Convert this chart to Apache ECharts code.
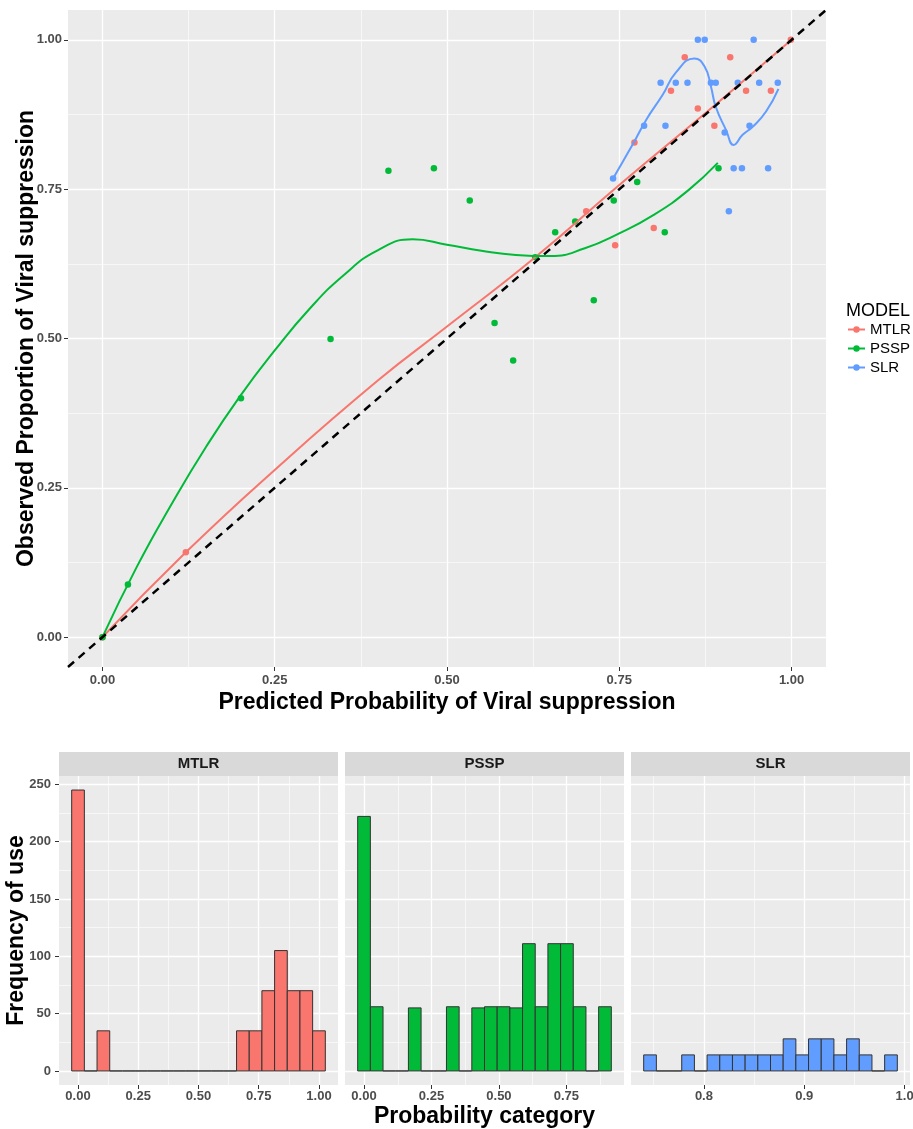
<!DOCTYPE html>
<html>
<head>
<meta charset="utf-8">
<script src="https://cdn.jsdelivr.net/npm/echarts@6/dist/echarts.min.js"></script>
<style>
html, body { margin: 0; padding: 0; background: #fff; }
#main { width: 913px; height: 1129px; }
</style>
</head>
<body>
<div id="main"></div>
<script>
const models = ['MTLR', 'PSSP', 'SLR'];
const colors = ['#F8766D', '#00BA38', '#619CFF'];

// calibration points: [predicted, observed]
const mtlrPoints = [[0, 0], [0.121, 0.142], [0.702, 0.713], [0.744, 0.656], [0.772, 0.828], [0.800, 0.685],
  [0.825, 0.915], [0.845, 0.971], [0.864, 0.885], [0.888, 0.856], [0.911, 0.971], [0.934, 0.915],
  [0.970, 0.915], [0.999, 1.0]];
const psspPoints = [[0, 0], [0.037, 0.088], [0.201, 0.400], [0.331, 0.499], [0.415, 0.781], [0.481, 0.785],
  [0.533, 0.731], [0.569, 0.526], [0.596, 0.463], [0.628, 0.636], [0.657, 0.678], [0.686, 0.696],
  [0.713, 0.564], [0.742, 0.731], [0.776, 0.762], [0.816, 0.678], [0.894, 0.785]];
const slrPoints = [[0.741, 0.768], [0.786, 0.856], [0.810, 0.928], [0.817, 0.856], [0.832, 0.928],
  [0.849, 0.928], [0.864, 1.0], [0.874, 1.0], [0.883, 0.928], [0.890, 0.928], [0.903, 0.845],
  [0.909, 0.713], [0.916, 0.785], [0.922, 0.928], [0.928, 0.785], [0.939, 0.856], [0.945, 1.0],
  [0.953, 0.928], [0.966, 0.785], [0.980, 0.928]];

// smoothed curves
const mtlrSmooth = [[0, 0], [0.121, 0.142], [0.25, 0.28], [0.4, 0.43], [0.5, 0.52], [0.628, 0.636],
  [0.75, 0.757], [0.886, 0.888], [1.0, 1.0]];
const psspSmooth = [[0, 0], [0.05, 0.118], [0.1, 0.222], [0.15, 0.318], [0.2, 0.404], [0.25, 0.48],
  [0.3, 0.549], [0.35, 0.606], [0.4, 0.648], [0.45, 0.666], [0.5, 0.657], [0.55, 0.647], [0.6, 0.64],
  [0.65, 0.638], [0.7, 0.651], [0.75, 0.676], [0.8, 0.707], [0.85, 0.748], [0.893, 0.794]];
const slrSmooth = [[0.741, 0.768], [0.770, 0.826], [0.789, 0.866], [0.813, 0.908], [0.832, 0.945],
  [0.859, 0.969], [0.874, 0.955], [0.883, 0.922], [0.890, 0.888], [0.905, 0.849], [0.916, 0.824],
  [0.929, 0.841], [0.944, 0.855], [0.963, 0.880], [0.981, 0.918]];

const diagonal = [[-0.05, -0.05], [1.05, 1.05]];
const calibTicks = [0, 0.25, 0.5, 0.75, 1];
const calibMinor = [0.125, 0.375, 0.625, 0.875];

// histogram counts, 20 bins per model
const mtlrCounts = [245, 0, 35, 0, 0, 0, 0, 0, 0, 0, 0, 0, 0, 35, 35, 70, 105, 70, 70, 35];
const psspCounts = [222, 56, 0, 0, 55, 0, 0, 56, 0, 55, 56, 56, 55, 111, 56, 111, 111, 56, 0, 56];
const slrCounts = [14, 0, 0, 14, 0, 14, 14, 14, 14, 14, 14, 28, 14, 28, 28, 14, 28, 14, 0, 14];
const binCenterFirst = [0, 0, 0.7463];
const binCenterLast = [1, 0.893, 0.9864];

const histTicks = [[0, 0.25, 0.5, 0.75, 1], [0, 0.25, 0.5, 0.75], [0.8, 0.9, 1.0]];
const histMinor = [[0.125, 0.375, 0.625, 0.875], [0.125, 0.375, 0.625, 0.875], [0.75, 0.85, 0.95]];
const countTicks = [0, 50, 100, 150, 200, 250];
const countMinor = [25, 75, 125, 175, 225];

// layout
const panelLeft = [59, 345, 631];
const panelW = 279;
const histTop = 776;
const histH = 309;
const stripH = 24;

const font = 'Liberation Sans, Arial, sans-serif';
const tickFont = { color: '#4D4D4D', fontSize: 13, fontWeight: 'bold', fontFamily: font };
const titleFont = { fontSize: 23, fontWeight: 'bold', color: '#000', fontFamily: font };
const gridMajor = { show: true, lineStyle: { color: '#FFFFFF', width: 1.3 } };
const gridMinor = { show: true, lineStyle: { color: '#FFFFFF', width: 0.6 } };

function majorAxis(gridIndex, min, max, ticks, fmt, showLabels, margin, extra) {
  return Object.assign({
    type: 'value', gridIndex, min, max,
    nameMoveOverlap: false,
    axisLine: { show: false, onZero: false },
    axisTick: { show: showLabels, length: 4, lineStyle: { color: '#333333' }, customValues: ticks },
    axisLabel: Object.assign({ show: showLabels, customValues: ticks, formatter: fmt, margin }, tickFont),
    splitLine: gridMajor
  }, extra || {});
}
function minorAxis(gridIndex, min, max, ticks) {
  return {
    type: 'value', gridIndex, min, max,
    axisLine: { show: false, onZero: false },
    axisTick: { show: false, customValues: ticks },
    axisLabel: { show: false, customValues: ticks },
    splitLine: gridMinor
  };
}

const fmt2 = v => v.toFixed(2);
const fmt1 = v => v.toFixed(1);
const fmt0 = v => String(v);

const xAxes = [
  majorAxis(0, -0.05, 1.05, calibTicks, fmt2, true, 7, {
    name: 'Predicted Probability of Viral suppression', nameLocation: 'middle', nameGap: 24,
    nameTextStyle: titleFont
  }),
  minorAxis(0, -0.05, 1.05, calibMinor)
];
const yAxes = [
  majorAxis(0, -0.05, 1.05, calibTicks, fmt2, true, 6, {
    name: 'Observed Proportion of Viral suppression', nameLocation: 'middle', nameGap: 30,
    nameTextStyle: titleFont
  }),
  minorAxis(0, -0.05, 1.05, calibMinor)
];

const gridBase = { backgroundColor: '#EBEBEB', show: true, borderWidth: 0, containLabel: false, outerBoundsMode: 'none' };
const grids = [Object.assign({ left: 68, top: 10, width: 758, height: 657 }, gridBase)];
const countMax = Math.max(...mtlrCounts, ...psspCounts, ...slrCounts);
const yMin = -countMax * 0.05, yMax = countMax * 1.05;

const allCounts = [mtlrCounts, psspCounts, slrCounts];
const histSeries = [];
allCounts.forEach((counts, k) => {
  grids.push(Object.assign({ left: panelLeft[k], top: histTop, width: panelW, height: histH }, gridBase));
  const first = binCenterFirst[k], last = binCenterLast[k];
  const w = (last - first) / (counts.length - 1);
  const lo = first - w / 2, hi = last + w / 2, pad = (hi - lo) * 0.05;
  const g = k + 1;
  const xExtra = k === 1 ? {
    name: 'Probability category', nameLocation: 'middle', nameGap: 20, nameTextStyle: titleFont
  } : {};
  xAxes.push(majorAxis(g, lo - pad, hi + pad, histTicks[k], k === 2 ? fmt1 : fmt2, true, 5, xExtra));
  xAxes.push(minorAxis(g, lo - pad, hi + pad, histMinor[k]));
  const yExtra = k === 0 ? {
    name: 'Frequency of use', nameLocation: 'middle', nameGap: 31, nameTextStyle: titleFont
  } : {};
  yAxes.push(majorAxis(g, yMin, yMax, countTicks, fmt0, k === 0, 8, yExtra));
  yAxes.push(minorAxis(g, yMin, yMax, countMinor));
  histSeries.push({
    type: 'custom', name: models[k] + ' hist', xAxisIndex: g * 2, yAxisIndex: g * 2, silent: true,
    data: counts.map((n, i) => [first + i * w, n]),
    renderItem: (params, api) => {
      const a = api.coord([api.value(0) - w / 2, api.value(1)]);
      const b = api.coord([api.value(0) + w / 2, 0]);
      return {
        type: 'rect',
        shape: { x: a[0], y: a[1], width: b[0] - a[0], height: b[1] - a[1] },
        style: { fill: colors[k], stroke: '#333333', lineWidth: 1 }
      };
    }
  });
});

const smooths = [mtlrSmooth, psspSmooth, slrSmooth];
const points = [mtlrPoints, psspPoints, slrPoints];

const option = {
  animation: false,
  backgroundColor: '#FFFFFF',
  title: {
    text: 'MODEL', left: 841, top: 297,
    textStyle: { fontSize: 18, fontWeight: 'normal', color: '#000', fontFamily: font }
  },
  legend: {
    data: models, orient: 'vertical', left: 842, top: 322, itemWidth: 17, itemHeight: 8, itemGap: 4,
    selectedMode: false, padding: [0, 5],
    textStyle: { fontSize: 15, lineHeight: 15, color: '#000', fontFamily: font }
  },
  grid: grids,
  xAxis: xAxes,
  yAxis: yAxes,
  series: [
    ...smooths.map((d, k) => ({
      type: 'line', name: models[k], data: d, smooth: 0.5, symbol: 'circle', symbolSize: 6, showSymbol: false,
      xAxisIndex: 0, yAxisIndex: 0, color: colors[k], lineStyle: { width: 2, color: colors[k] }, z: 3
    })),
    ...points.map((d, k) => ({
      type: 'scatter', name: models[k], data: d, symbolSize: 6.5,
      xAxisIndex: 0, yAxisIndex: 0, itemStyle: { color: colors[k], opacity: 1 }, z: 2
    })),
    {
      type: 'line', name: 'diagonal', data: diagonal, showSymbol: false, symbol: 'none',
      xAxisIndex: 0, yAxisIndex: 0, lineStyle: { width: 2.5, color: '#000', type: [8, 6] }, z: 4
    },
    ...histSeries
  ],
  graphic: panelLeft.map((l, k) => ({
    type: 'group',
    children: [
      { type: 'rect', shape: { x: l, y: histTop - stripH, width: panelW, height: stripH }, style: { fill: '#D9D9D9' } },
      {
        type: 'text', x: l + panelW / 2, y: histTop - stripH / 2,
        style: { text: models[k], align: 'center', verticalAlign: 'middle', font: 'bold 15px ' + font, fill: '#1A1A1A' }
      }
    ]
  }))
};

const chart = echarts.init(document.getElementById('main'));
chart.setOption(option);
</script>
</body>
</html>
